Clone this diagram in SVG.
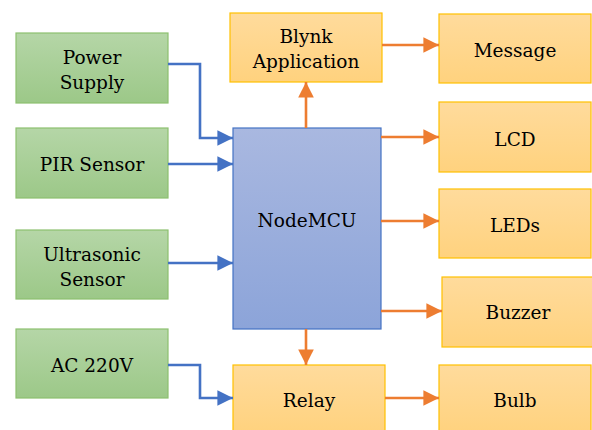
<svg xmlns="http://www.w3.org/2000/svg" width="592" height="430" viewBox="0 0 592 430">
<defs>
<linearGradient id="gG" x1="0" y1="0" x2="0" y2="1"><stop offset="0" stop-color="#B5D6A7"/><stop offset="1" stop-color="#9CC888"/></linearGradient>
<linearGradient id="gO" x1="0" y1="0" x2="0" y2="1"><stop offset="0" stop-color="#FFDB9C"/><stop offset="1" stop-color="#FFD27E"/></linearGradient>
<linearGradient id="gB" x1="0" y1="0" x2="0" y2="1"><stop offset="0" stop-color="#A9B8E0"/><stop offset="1" stop-color="#8CA4D9"/></linearGradient>
<marker id="aB" markerWidth="6" markerHeight="6" refX="6" refY="3" orient="auto" markerUnits="strokeWidth"><path d="M0,0 L6,3 L0,6 Z" fill="#4472C4"/></marker>
<marker id="aO" markerWidth="6" markerHeight="6" refX="6" refY="3" orient="auto" markerUnits="strokeWidth"><path d="M0,0 L6,3 L0,6 Z" fill="#ED7D31"/></marker>
</defs>
<style>
.g{fill:url(#gG);stroke:#8DC06F;stroke-width:1.2}
.o{fill:url(#gO);stroke:#FFC000;stroke-width:1.2}
.b{fill:url(#gB);stroke:#4472C4;stroke-width:1.2}
text{font-family:'DejaVu Serif','Liberation Serif',serif;font-size:18.5px;fill:#000;text-anchor:middle}
.cb{fill:none;stroke:#4472C4;stroke-width:2.6;marker-end:url(#aB)}
.co{fill:none;stroke:#ED7D31;stroke-width:2.6;marker-end:url(#aO)}
</style>
<g id="power"><rect class="g" x="16" y="33" width="152" height="70"/><text x="92" y="64">Power</text><text x="92" y="89">Supply</text></g>
<g id="pir"><rect class="g" x="16" y="128" width="152" height="70"/><text x="92" y="171" font-size="18">PIR Sensor</text></g>
<g id="ultra"><rect class="g" x="16" y="230" width="152" height="69"/><text x="92" y="261">Ultrasonic</text><text x="92" y="286">Sensor</text></g>
<g id="ac"><rect class="g" x="16" y="329" width="152" height="69"/><text x="92" y="372">AC 220V</text></g>
<g id="blynk"><rect class="o" x="230" y="13" width="152" height="69"/><text x="306" y="43">Blynk</text><text x="306" y="68">Application</text></g>
<g id="nodemcu"><rect class="b" x="233" y="128" width="148" height="201"/><text x="307" y="227" font-size="20.5">NodeMCU</text></g>
<g id="relay"><rect class="o" x="233" y="365" width="152" height="68"/><text x="309" y="407">Relay</text></g>
<g id="message"><rect class="o" x="439" y="14" width="152" height="69"/><text x="515" y="57">Message</text></g>
<g id="lcd"><rect class="o" x="439" y="102" width="152" height="70"/><text x="515" y="146">LCD</text></g>
<g id="leds"><rect class="o" x="439" y="189" width="152" height="69"/><text x="515" y="232">LEDs</text></g>
<g id="buzzer"><rect class="o" x="442" y="277" width="152" height="70"/><text x="518" y="319">Buzzer</text></g>
<g id="bulb"><rect class="o" x="439" y="365" width="152" height="68"/><text x="515" y="407">Bulb</text></g>
<g id="connectors">
<path class="cb" d="M168,64 H200 V138 H233"/>
<path class="cb" d="M168,164 H233"/>
<path class="cb" d="M168,263 H233"/>
<path class="cb" d="M168,365 H200 V398 H233"/>
<path class="co" d="M306,128 V82"/>
<path class="co" d="M382,45 H439"/>
<path class="co" d="M381,137 H439"/>
<path class="co" d="M381,221 H439"/>
<path class="co" d="M381,311 H442"/>
<path class="co" d="M306,329 V365"/>
<path class="co" d="M385,398 H439"/>
</g>
</svg>
